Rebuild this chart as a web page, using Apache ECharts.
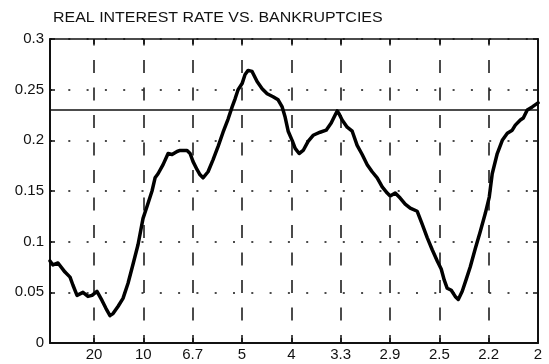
<!DOCTYPE html>
<html>
<head>
<meta charset="utf-8">
<script src="https://cdn.jsdelivr.net/npm/echarts@6/dist/echarts.min.js"></script>
<style>
  html, body { margin: 0; padding: 0; background: #fff; }
  #chart { width: 549px; height: 364px; }
</style>
</head>
<body>
<div id="chart"></div>
<script>
// Coherence spectrum: frequency (cycles per period) against coherence value.
const freq = [
  0.0054, 0.0084, 0.0135, 0.0206, 0.0257, 0.0287, 0.0328, 0.0388, 0.0439, 0.0480,
  0.0530, 0.0581, 0.0622, 0.0662, 0.0693, 0.0743, 0.0794, 0.0845, 0.0896, 0.0946,
  0.0997, 0.1038, 0.1088, 0.1119, 0.1149, 0.1200, 0.1251, 0.1291, 0.1342, 0.1372,
  0.1443, 0.1474, 0.1504, 0.1545, 0.1575, 0.1605, 0.1656, 0.1707, 0.1758, 0.1808,
  0.1859, 0.1900, 0.1930, 0.1960, 0.2001, 0.2031, 0.2062, 0.2102, 0.2153, 0.2204,
  0.2255, 0.2315, 0.2366, 0.2407, 0.2437, 0.2468, 0.2508, 0.2539, 0.2579, 0.2620,
  0.2670, 0.2721, 0.2792, 0.2853, 0.2904, 0.2944, 0.2965, 0.2985, 0.3015, 0.3066,
  0.3117, 0.3167, 0.3218, 0.3269, 0.3319, 0.3370, 0.3421, 0.3472, 0.3502, 0.3553,
  0.3603, 0.3654, 0.3705, 0.3776, 0.3827, 0.3877, 0.3928, 0.3979, 0.4019, 0.4050,
  0.4080, 0.4121, 0.4161, 0.4192, 0.4232, 0.4273, 0.4313, 0.4364, 0.4415, 0.4466,
  0.4506, 0.4536, 0.4587, 0.4638, 0.4689, 0.4739, 0.4770, 0.4821, 0.4851, 0.4891,
  0.4942, 0.5000
];
const coherence = [
  0.081, 0.077, 0.079, 0.070, 0.065, 0.057, 0.047, 0.050, 0.046, 0.047,
  0.051, 0.042, 0.034, 0.027, 0.029, 0.036, 0.044, 0.059, 0.078, 0.097,
  0.123, 0.135, 0.150, 0.163, 0.167, 0.176, 0.187, 0.186, 0.189, 0.190,
  0.190, 0.187, 0.179, 0.171, 0.166, 0.163, 0.169, 0.181, 0.194, 0.208,
  0.221, 0.233, 0.241, 0.250, 0.256, 0.265, 0.269, 0.268, 0.258, 0.251,
  0.246, 0.243, 0.240, 0.233, 0.223, 0.209, 0.200, 0.192, 0.187, 0.190,
  0.199, 0.205, 0.208, 0.210, 0.217, 0.225, 0.229, 0.226, 0.220, 0.213,
  0.209, 0.195, 0.186, 0.176, 0.169, 0.163, 0.154, 0.148, 0.145, 0.148,
  0.143, 0.137, 0.133, 0.130, 0.117, 0.104, 0.092, 0.081, 0.073, 0.062,
  0.054, 0.052, 0.046, 0.043, 0.051, 0.063, 0.075, 0.093, 0.110, 0.128,
  0.144, 0.167, 0.187, 0.200, 0.207, 0.210, 0.215, 0.220, 0.222, 0.230,
  0.233, 0.237
];

// Bottom axis: ticks at frequencies, labelled with the matching period.
const xTickFreqs  = [0.05, 0.10, 0.15, 0.20, 0.25, 0.30, 0.35, 0.40, 0.45, 0.50];
const xTickLabels = ['20', '10', '6.7', '5', '4', '3.3', '2.9', '2.5', '2.2', '2'];
const xMin = 0.0054;
const xMax = 0.5;

// Significance level drawn across the plot.
const significance = 0.233;

const titleText = 'REAL INTEREST RATE VS. BANKRUPTCIES';

const FONT = '"Liberation Sans", Arial, Helvetica, sans-serif';
const INK = '#111';

function periodLabel(v) {
  for (let i = 0; i < xTickFreqs.length; i++) {
    if (Math.abs(xTickFreqs[i] - v) < 1e-6) return xTickLabels[i];
  }
  return '';
}

const chart = echarts.init(document.getElementById('chart'), null, { renderer: 'canvas' });

chart.setOption({
  animation: false,
  backgroundColor: '#fff',
  // Title drawn as a slightly widened text element (wide grotesque look).
  graphic: [
    {
      type: 'text',
      x: 53,
      y: 11,
      scaleX: 1.14,
      style: {
        text: titleText,
        font: 'normal 14px ' + FONT,
        fill: INK,
        textVerticalAlign: 'top'
      }
    }
  ],
  grid: { left: 50, right: 11, top: 39, bottom: 21, containLabel: false },
  xAxis: [
    {
      type: 'value',
      position: 'bottom',
      min: xMin,
      max: xMax,
      axisLine: { show: true, onZero: false, lineStyle: { color: INK, width: 2 } },
      axisTick: { show: true, inside: true, length: 5, customValues: xTickFreqs,
                  lineStyle: { color: INK, width: 1.5 } },
      axisLabel: { show: true, margin: 4, customValues: xTickFreqs, formatter: periodLabel,
                   fontFamily: FONT, fontSize: 15, color: INK },
      splitLine: { show: true, lineStyle: { color: INK, width: 1.5, type: [13, 14.5], dashOffset: 6.5 } }
    },
    {
      type: 'value',
      position: 'top',
      min: xMin,
      max: xMax,
      axisLine: { show: true, onZero: false, lineStyle: { color: INK, width: 1.5 } },
      axisTick: { show: true, inside: true, length: 5, customValues: xTickFreqs,
                  lineStyle: { color: INK, width: 1.5 } },
      axisLabel: { show: false },
      splitLine: { show: false }
    }
  ],
  yAxis: [
    {
      type: 'value',
      position: 'left',
      min: 0,
      max: 0.3,
      interval: 0.05,
      axisLine: { show: true, onZero: false, lineStyle: { color: INK, width: 2 } },
      axisTick: { show: true, inside: true, length: 5, lineStyle: { color: INK, width: 1.5 } },
      axisLabel: { margin: 6, fontFamily: FONT, fontSize: 15, color: INK },
      splitLine: { show: true, lineStyle: { color: INK, width: 1.5, type: [2, 16.3], dashOffset: 0 } }
    },
    {
      type: 'value',
      position: 'right',
      min: 0,
      max: 0.3,
      interval: 0.05,
      axisLine: { show: true, onZero: false, lineStyle: { color: INK, width: 2 } },
      axisTick: { show: true, inside: true, length: 5, lineStyle: { color: INK, width: 1.5 } },
      axisLabel: { show: false },
      splitLine: { show: false }
    }
  ],
  series: [
    {
      type: 'line',
      xAxisIndex: 0,
      yAxisIndex: 0,
      data: freq.map((f, i) => [f, coherence[i]]),
      showSymbol: false,
      smooth: false,
      lineStyle: { color: '#000', width: 3.5, join: 'round', cap: 'round' },
      z: 5,
      markLine: {
        silent: true,
        symbol: ['none', 'none'],
        label: { show: false },
        lineStyle: { color: INK, width: 1.5, type: 'solid' },
        data: [{ yAxis: significance }]
      }
    }
  ]
});
</script>
</body>
</html>
